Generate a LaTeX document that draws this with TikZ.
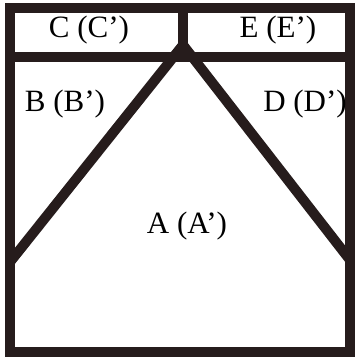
\documentclass[tikz,border=0pt]{standalone}
\usepackage{fontspec}
\setmainfont{Liberation Serif}
\definecolor{wallc}{RGB}{38,28,28}
\begin{document}
\begin{tikzpicture}[x=1pt,y=-1pt,
  wall/.style={draw=wallc,line width=10pt},
  lbl/.style={font=\fontsize{31}{34}\selectfont,inner sep=0pt,anchor=center}]
\useasboundingbox (0,0) rectangle (358,361);
\fill[white] (0,0) rectangle (358,361);
% outer box
\draw[wall] (10,8) rectangle (350,352);
% top horizontal
\draw[wall] (10,57) -- (350,57);
% vertical divider
\draw[wall,line join=round] (183,8) -- (183,45);
% diagonals
\draw[wall,line join=miter] (10,262) -- (183,45) -- (350,260);
\node[lbl] (c) at (89,30) {C (C’)};
\node[lbl] (e) at (278,30) {E (E’)};
\node[lbl] (b) at (65,104) {B (B’)};
\node[lbl] (d) at (305,104) {D (D’)};
\node[lbl] (a) at (187,226) {A (A’)};
\end{tikzpicture}
\end{document}
